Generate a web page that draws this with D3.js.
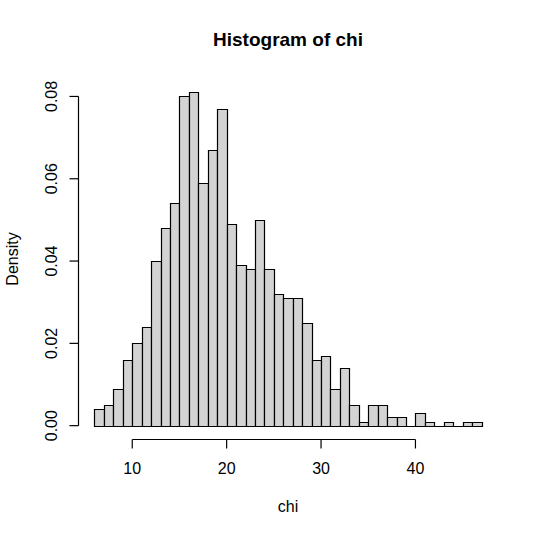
<!DOCTYPE html>
<html>
<head>
<meta charset="utf-8">
<script src="https://cdn.jsdelivr.net/npm/d3@7"></script>
<style>
  body { margin: 0; background: #fff; }
  svg { font-family: "Liberation Sans", Arial, sans-serif; }
</style>
</head>
<body>
<svg id="chart" width="538" height="537"></svg>
<script>
// histogram of chi, bins of width 1 from 6 to 47 (density = count / 1000)
var breaks = d3.range(6, 48);
var density = [0.004, 0.005, 0.009, 0.016, 0.020, 0.024, 0.040, 0.048, 0.054, 0.080,
               0.081, 0.059, 0.067, 0.077, 0.049, 0.039, 0.038, 0.050, 0.038, 0.032,
               0.031, 0.031, 0.025, 0.016, 0.017, 0.009, 0.014, 0.005, 0.001, 0.005,
               0.005, 0.002, 0.002, 0.000, 0.003, 0.001, 0.000, 0.001, 0.000, 0.001,
               0.001];
var xTicks = [10, 20, 30, 40];
var yTicks = [0.00, 0.02, 0.04, 0.06, 0.08];

var bins = density.map(function(d, i) { return {x0: breaks[i], x1: breaks[i + 1], y: d}; });

// R style 4% extension of the axis ranges
function extend(ext) {
  var pad = (ext[1] - ext[0]) * 0.04;
  return [ext[0] - pad, ext[1] + pad];
}

var svg = d3.select('#chart');
var plotL = 79, plotR = 497, plotT = 79, plotB = 439;

var x = d3.scaleLinear().domain(extend(d3.extent(breaks))).range([plotL, plotR]);
var y = d3.scaleLinear().domain(extend([0, d3.max(density)])).range([plotB, plotT]);

// bars as closed paths so empty bins still show as a flat line (like R's rect)
svg.append('g').selectAll('path')
  .data(bins)
  .join('path')
  .attr('d', function(d) {
    var a = Math.round(x(d.x0)) + 0.5, b = Math.round(x(d.x1)) + 0.5;
    var y0 = Math.round(y(0)) + 0.5, y1 = Math.round(y(d.y)) + 0.5;
    return 'M' + a + ',' + y0 + 'V' + y1 + 'H' + b + 'V' + y0 + 'Z';
  })
  .attr('fill', '#d3d3d3')
  .attr('stroke', 'black')
  .attr('stroke-width', 1.2);

// x axis
var xa = svg.append('g').attr('stroke', 'black').attr('stroke-width', 1.2);
var ax = Math.round(plotB) + 0.5;
xa.append('line')
  .attr('x1', x(xTicks[0])).attr('x2', x(xTicks[xTicks.length - 1]))
  .attr('y1', ax).attr('y2', ax);
xa.selectAll('line.tick').data(xTicks).join('line').attr('class', 'tick')
  .attr('x1', d => x(d)).attr('x2', d => x(d))
  .attr('y1', ax).attr('y2', ax + 9);
svg.append('g').selectAll('text').data(xTicks).join('text')
  .attr('x', d => x(d)).attr('y', 474)
  .attr('text-anchor', 'middle').attr('font-size', 16)
  .text(d => d);

// y axis
var ya = svg.append('g').attr('stroke', 'black').attr('stroke-width', 1.2);
ya.append('line')
  .attr('x1', 78.5).attr('x2', 78.5)
  .attr('y1', y(yTicks[0])).attr('y2', y(yTicks[yTicks.length - 1]));
ya.selectAll('line.tick').data(yTicks).join('line').attr('class', 'tick')
  .attr('x1', 78.5).attr('x2', 69.5)
  .attr('y1', d => y(d)).attr('y2', d => y(d));
svg.append('g').selectAll('text').data(yTicks).join('text')
  .attr('transform', d => 'translate(57,' + y(d) + ') rotate(-90)')
  .attr('text-anchor', 'middle').attr('font-size', 16)
  .text(d => d3.format('.2f')(d));

// titles
svg.append('text').attr('x', (plotL + plotR) / 2).attr('y', 46)
  .attr('text-anchor', 'middle').attr('font-size', 19).attr('font-weight', 'bold')
  .text('Histogram of chi');
svg.append('text').attr('x', (plotL + plotR) / 2).attr('y', 512)
  .attr('text-anchor', 'middle').attr('font-size', 16)
  .text('chi');
svg.append('text').attr('transform', 'translate(18,' + (plotT + plotB) / 2 + ') rotate(-90)')
  .attr('text-anchor', 'middle').attr('font-size', 16)
  .text('Density');
</script>
</body>
</html>
